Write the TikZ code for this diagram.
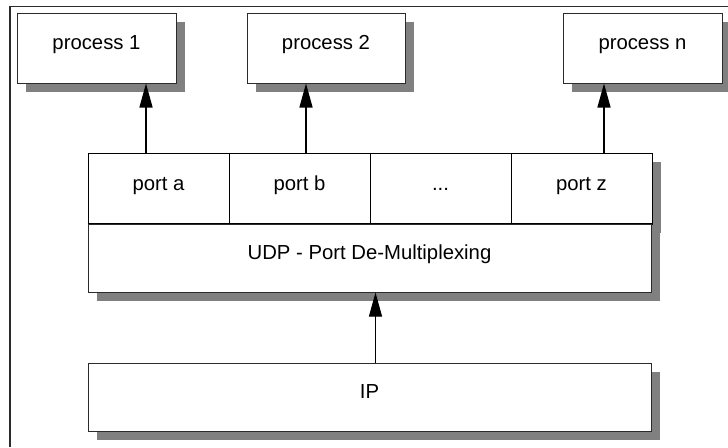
\documentclass[tikz,border=0pt]{standalone}
\usepackage{fontspec}
\setmainfont{Liberation Sans}
\usepackage{tikz}
\usetikzlibrary{calc,arrows.meta,shadows}
\definecolor{edgec}{HTML}{2B2B2B}
\definecolor{shadc}{HTML}{808080}
\tikzset{
  ar/.style={-{Triangle[length=24pt,width=13pt]},line width=1.4pt,black},
  box/.style={draw=edgec,line width=1pt,fill=white,align=center,inner sep=0pt,
    text height=14pt,text depth=11pt,font=\fontsize{20.3}{24}\selectfont},
  shbox/.style={box,drop shadow={shadow xshift=9pt,shadow yshift=-9pt,fill=shadc,opacity=1}},
  cell/.style={box,draw=black,line width=0.8pt,minimum width=141pt,minimum height=71pt}
}
\begin{document}
\begin{tikzpicture}[x=1pt,y=-1pt]
\useasboundingbox (0,0) rectangle (728,447);
\draw[edgec,line width=1.3pt] (10,447) -- (10,6.5) -- (728,6.5);
% processes
\node[shbox,minimum width=159pt,minimum height=70pt] (p1) at (96.5,48) {process 1};
\node[shbox,minimum width=158pt,minimum height=70pt] (p2) at (326,48) {process 2};
\node[shbox,minimum width=159pt,minimum height=70pt] (pn) at (642.5,48) {process n};
% ports and udp
\node[cell] (pa) at (158.5,188.5) {port a};
\node[cell] (pb) at (299.5,188.5) {port b};
\node[cell] (pd) at (440.5,188.5) {...};
\node[cell,drop shadow={shadow xshift=9pt,shadow yshift=-9pt,fill=shadc,opacity=1}] (pz) at (581.5,188.5) {port z};
\node[shbox,minimum width=563pt,minimum height=68pt] (udp) at (369.5,258) {UDP - Port De-Multiplexing};
\draw[black,line width=0.8pt] (udp.north west) -- (udp.north east);
% ip
\node[shbox,minimum width=563pt,minimum height=68pt] (ip) at (369.5,397) {IP};
\draw[ar] ($(pa.north)+(-12.5,0)$) -- ($(p1.south)+(49.5,0)$);
\draw[ar] ($(pb.north)+(6.5,0)$) -- ($(p2.south)+(-20,0)$);
\draw[ar] ($(pz.north)+(22.5,0)$) -- ($(pn.south)+(-38.5,0)$);
\draw[ar,line width=1pt] ($(ip.north)+(6,0)$) -- ($(udp.south)+(6,0)$);
\end{tikzpicture}
\end{document}
